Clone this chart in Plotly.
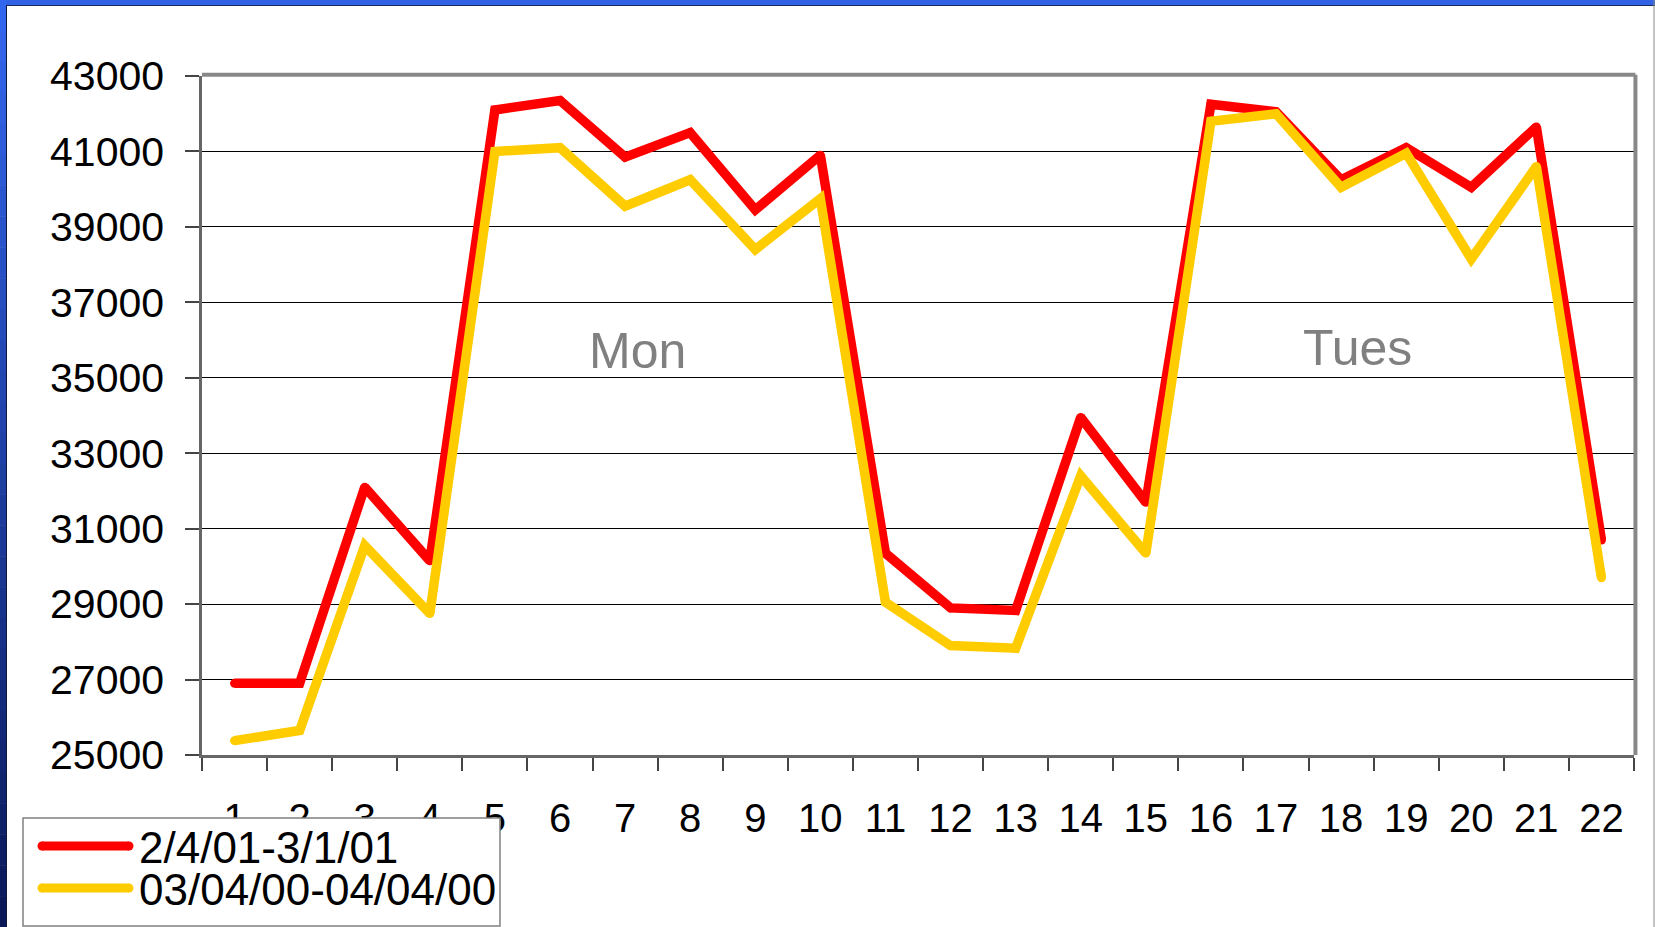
import plotly.graph_objects as go

# Hourly call volumes for two periods
hours = [str(h) for h in range(1, 23)]
period_2001 = [26900, 26900, 32100, 30150, 42100, 42350, 40850, 41500, 39450, 40900, 30350,
               28900, 28830, 33950, 31700, 42250, 42050, 40250, 41100, 40050, 41650, 30700]
period_2000 = [25380, 25650, 30550, 28750, 41000, 41100, 39550, 40250, 38400, 39750, 29050,
               27900, 27830, 32400, 30350, 41800, 42000, 40050, 40950, 38150, 40600, 29700]
series_names = ["2/4/01-3/1/01", "03/04/00-04/04/00"]
series_colors = ["#ff0000", "#ffcc00"]
y_ticks = list(range(25000, 43001, 2000))
day_labels = ["Mon", "Tues"]

W, H = 1655, 927
L, R, T, B = 202, 1634, 76, 755   # plot area in pixels
PW, PH = R - L, B - T


def px(x):
    return (x - L) / PW


def py(y):
    return (B - y) / PH


FONT = "Liberation Sans, Arial, sans-serif"

fig = go.Figure()
for name, vals, col in zip(series_names, [period_2001, period_2000], series_colors):
    fig.add_trace(go.Scatter(
        x=hours, y=vals, name=name, mode="lines+markers",
        line=dict(color=col, width=9.5),
        marker=dict(color=col, size=9, line=dict(width=0)),
        showlegend=False, hoverinfo="skip",
    ))

shapes = []
# plot frame: grey top and right edges
shapes.append(dict(type="line", xref="x domain", yref="y domain", x0=0, x1=1.001, y0=1.002, y1=1.002,
                   line=dict(color="#888888", width=4), layer="above"))
shapes.append(dict(type="line", xref="x domain", yref="y domain", x0=1.001, x1=1.001, y0=0, y1=1.002,
                   line=dict(color="#888888", width=4), layer="above"))

# slide decoration: blue top bar, gradient left strip, thin right rule
shapes.append(dict(type="rect", xref="paper", yref="paper", x0=px(0), x1=px(W), y0=py(0), y1=py(5),
                   fillcolor="#3162e6", line=dict(width=0), layer="above"))
shapes.append(dict(type="line", xref="paper", yref="paper", x0=px(6), x1=px(W), y0=py(5.5), y1=py(5.5),
                   line=dict(color="#1a2a60", width=1), layer="above"))
n_bands = 30
top_c, bot_c = (0x33, 0x66, 0xee), (0x0a, 0x18, 0x58)
for i in range(n_bands):
    f = i / (n_bands - 1)
    c = tuple(round(a + (b - a) * f) for a, b in zip(top_c, bot_c))
    y0 = H * i / n_bands
    y1 = H * (i + 1) / n_bands
    shapes.append(dict(type="rect", xref="paper", yref="paper", x0=px(0), x1=px(6),
                       y0=py(y0), y1=py(y1 + 0.5),
                       fillcolor="rgb(%d,%d,%d)" % c, line=dict(width=0), layer="above"))
shapes.append(dict(type="line", xref="paper", yref="paper", x0=px(6.5), x1=px(6.5), y0=py(5), y1=py(H),
                   line=dict(color="#101840", width=1), layer="above"))
shapes.append(dict(type="line", xref="paper", yref="paper", x0=px(1654), x1=px(1654), y0=py(0), y1=py(H),
                   line=dict(color="#888888", width=1), layer="above"))

# legend box
shapes.append(dict(type="rect", xref="paper", yref="paper", x0=px(23), x1=px(500), y0=py(818), y1=py(926),
                   fillcolor="white", line=dict(color="#808080", width=1.5), layer="above"))
leg_rows = [846, 888]
for yy, col in zip(leg_rows, series_colors):
    shapes.append(dict(type="line", xref="paper", yref="paper", x0=px(42), x1=px(129), y0=py(yy), y1=py(yy),
                       line=dict(color=col, width=9), layer="above"))
    for xx in (42, 129):
        shapes.append(dict(type="circle", xref="paper", yref="paper", xsizemode="pixel", ysizemode="pixel",
                           xanchor=px(xx), yanchor=py(yy), x0=-4.5, x1=4.5, y0=-4.5, y1=4.5,
                           fillcolor=col, line=dict(width=0), layer="above"))

annotations = []
for yy, name in zip(leg_rows, series_names):
    annotations.append(dict(xref="paper", yref="paper", x=px(137), y=py(yy + 1), text=name,
                            showarrow=False, xanchor="left", yanchor="middle",
                            font=dict(family=FONT, size=44, color="black")))
for (xx, yy), lab in zip([(637, 351), (1357, 348)], day_labels):
    annotations.append(dict(xref="paper", yref="paper", x=px(xx), y=py(yy), text=lab,
                            showarrow=False, xanchor="center", yanchor="middle",
                            font=dict(family=FONT, size=50, color="#808080")))

fig.update_layout(
    width=W, height=H, autosize=False,
    margin=dict(l=L, r=W - R, t=T, b=H - B, pad=0),
    paper_bgcolor="white", plot_bgcolor="white",
    showlegend=False,
    font=dict(family=FONT, color="black"),
    shapes=shapes, annotations=annotations,
    xaxis=dict(
        type="category", categoryorder="array", categoryarray=hours,
        range=[-0.5, 21.5], tickson="boundaries",
        ticks="outside", ticklen=13, tickwidth=1.5, tickcolor="#444444",
        showline=True, linecolor="#666666", linewidth=2.5,
        showgrid=False, zeroline=False,
        tickfont=dict(family=FONT, size=40, color="black"),
        ticklabelstandoff=26,
    ),
    yaxis=dict(
        range=[25000, 43000], tickmode="array", tickvals=y_ticks,
        ticktext=[str(v) for v in y_ticks],
        ticks="outside", ticklen=14, tickwidth=1.5, tickcolor="#444444",
        showline=True, linecolor="#666666", linewidth=2.5,
        showgrid=True, gridcolor="#000000", gridwidth=1, zeroline=False,
        tickfont=dict(family=FONT, size=41, color="black"),
        ticklabelstandoff=13,
    ),
)

fig.write_html("out.html")
